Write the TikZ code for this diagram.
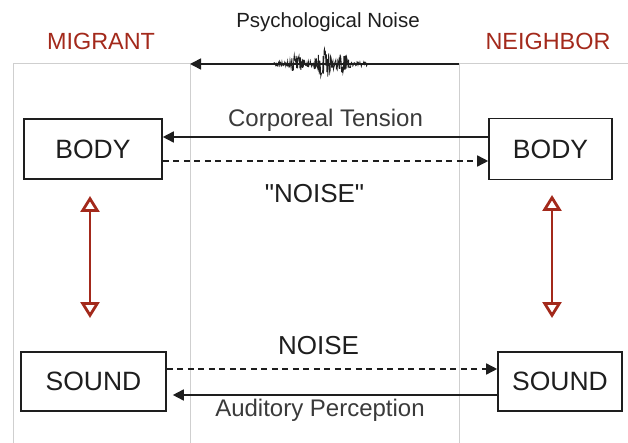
\documentclass[tikz,border=0pt]{standalone}
\usepackage{fontspec}
\setmainfont{Liberation Sans}[Ligatures=TeXOff]
\usepackage{xcolor}
\definecolor{rust}{HTML}{A3291B}
\definecolor{ink}{HTML}{1E1E1E}
\definecolor{soft}{HTML}{3A3A3A}
\definecolor{rule}{HTML}{CFCFCF}
\usepackage{tikz}
\usetikzlibrary{arrows.meta,positioning,calc}
\tikzset{
  >={Triangle[length=11pt,width=11pt]},
  box/.style    ={draw=ink,line width=1.6pt,fill=white,text=ink,
                  font=\fontsize{26.5}{30}\selectfont,inner sep=0pt},
  side/.style   ={text=rust,font=\fontsize{23.4}{27}\selectfont},
  lbl/.style    ={text=soft,font=\fontsize{24}{28}\selectfont,inner sep=1pt},
  big/.style    ={text=ink,font=\fontsize{26}{30}\selectfont,inner sep=1pt},
  flow/.style   ={->,draw=ink,line width=1.6pt},
  echo/.style   ={->,draw=ink,line width=1.5pt,dash pattern=on 6pt off 4.5pt},
  link/.style   ={{Triangle[open,length=16pt,width=19pt]}-{Triangle[open,length=16pt,width=19pt]},
                  draw=rust,line width=2.8pt},
  frame/.style  ={draw=rule,line width=1pt},
}

\begin{document}
\begin{tikzpicture}[x=1pt,y=-1pt]
\useasboundingbox (0,0) rectangle (628,443);
% frame
\draw[frame] (13,443) -- (13,64) -- (190,64) -- (190,443);
\draw[frame] (459,443) -- (459,64) -- (628,64);
% sides
\node[side] (migrant) at (101,41) {MIGRANT};
\node[side] (neighbor) at (548,41) {NEIGHBOR};
% boxes
\node[box,minimum width=138pt,minimum height=60pt] (mbody) at (93,149) {BODY};
\node[box,minimum width=123pt,minimum height=61pt] (nbody) at (550.5,149) {BODY};
\node[box,minimum width=145pt,minimum height=59pt] (msound) at (93.5,381.5) {SOUND};
\node[box,minimum width=124pt,minimum height=59pt] (nsound) at (560,381.5) {SOUND};
% psychological noise
\node[text=ink,font=\fontsize{20.5}{24}\selectfont] (psych) at (328,22) {Psychological Noise};
\coordinate (pr) at (459,64);
\coordinate (pl) at (190,64);
\draw[flow] (pr) -- (pl);
\pgfmathsetseed{11}
\draw[ink,line width=0.8pt] plot[domain=273:367,samples=200]
  (\x,{64+(2.5+8*exp(-((\x-296)/6)^2)+13*exp(-((\x-324)/8)^2)+9*exp(-((\x-344)/5)^2))*rand});
% body level
\draw[flow] ([yshift=12pt]nbody.west) -- ([yshift=12pt]mbody.east)
  node[lbl,midway,above=4pt] (tension) {Corporeal Tension};
\draw[echo] ([yshift=-12pt]mbody.east) -- ([yshift=-12pt]nbody.west);
\node[big] (qnoise) at (314.5,193.5) {"NOISE"};
% body <-> sound
\coordinate (mtop) at (90,196);
\coordinate (mbot) at (90,318);
\coordinate (ntop) at (552,195);
\coordinate (nbot) at (552,318);
\draw[link] (mtop) -- (mbot);
\draw[link] (ntop) -- (nbot);
% sound level
\node[big] (noise) at (318.5,346) {NOISE};
\draw[echo] ([yshift=12.5pt]msound.east) -- ([yshift=12.5pt]nsound.west);
\draw[flow,shorten >=6pt] ([yshift=-13.5pt]nsound.west) -- ([yshift=-13.5pt]msound.east);
\node[lbl] (audit) at (320,410) {Auditory Perception};
\end{tikzpicture}
\end{document}
